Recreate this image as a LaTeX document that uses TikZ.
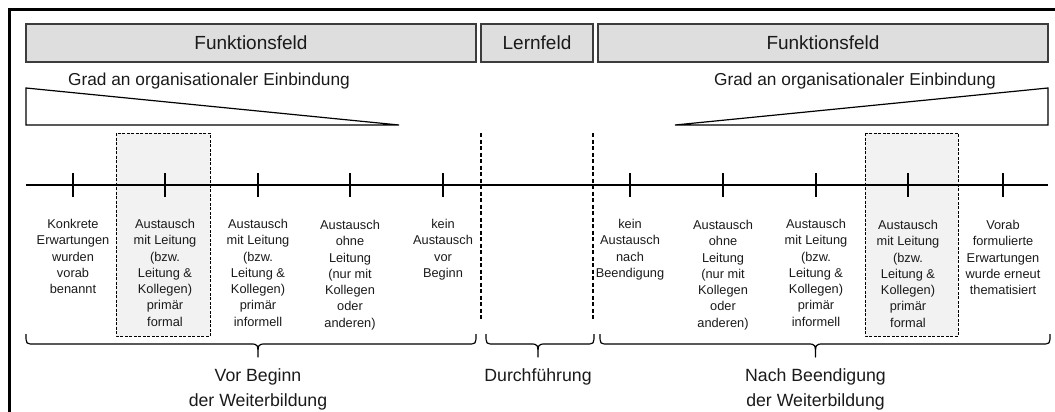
\documentclass[tikz,border=0pt]{standalone}
\usepackage{fontspec}
\setmainfont{Liberation Sans}
\definecolor{hdrfill}{HTML}{DEDEDE}
\definecolor{hdrline}{HTML}{3C3C3C}
\definecolor{boxfill}{HTML}{F2F2F2}
\definecolor{ink}{HTML}{1A1A1A}

% curly brace opening upwards: left end, tip, right end
\newcommand\phasebrace[3]{%
  \draw[bracepath] (#1,334) .. controls (#1,344) .. (#1+8,344) -- (#2-8,344)
    .. controls (#2,344) .. (#2,357) .. controls (#2,344) .. (#2+8,344)
    -- (#3-8,344) .. controls (#3,344) .. (#3,334);}

\begin{document}
\begin{tikzpicture}[x=1pt,y=-1pt,
  hdr/.style={draw=hdrline, fill=hdrfill, line width=1.3pt, minimum height=38pt,
    inner sep=0pt, text=ink, font=\fontsize{19}{22}\selectfont},
  grad/.style={inner sep=0pt, text=ink, font=\fontsize{17.3}{20}\selectfont},
  lbl/.style={anchor=north, inner sep=0pt, align=center, text=ink,
    font=\fontsize{12.8}{16.3}\selectfont},
  phase/.style={anchor=north, inner sep=0pt, align=center, text=ink,
    font=\fontsize{17.7}{24.5}\selectfont},
  tickmark/.style={line width=1.4pt},
  wedge/.style={line width=1.2pt, line join=miter},
  dashsep/.style={line width=1.1pt, dash pattern=on 4pt off 2.5pt},
  highlight/.style={fill=boxfill, draw=black, line width=0.9pt, dash pattern=on 3pt off 1.5pt},
  bracepath/.style={line width=1.2pt, line join=round}]
\useasboundingbox (0,0) rectangle (1055,412);

% frame
\draw[line width=3pt] (9.5,412) -- (9.5,10) -- (1055,10);

% highlighted columns
\draw[highlight] (116,133) rectangle (210,336);
\draw[highlight] (865,133) rectangle (958,336);

% header fields
\node[hdr, minimum width=450pt] (ff1) at (251,43) {Funktionsfeld};
\node[hdr, minimum width=112pt] (lf) at (537,43) {Lernfeld};
\node[hdr, minimum width=450pt] (ff2) at (823,43) {Funktionsfeld};

% degree of organisational integration
\node[grad] (g1) at (209,81) {Grad an organisationaler Einbindung};
\node[grad] (g2) at (855,81) {Grad an organisationaler Einbindung};
\draw[wedge] (26,88) -- (399,125) -- (26,125) -- cycle;
\draw[wedge] (675,125) -- (1048,88) -- (1048,125) -- cycle;

% phase separators
\draw[dashsep] (481,133) -- (481,320);
\draw[dashsep] (593,133) -- (593,320);

% time line with ticks
\draw[line width=1.4pt] (26,185) -- (1048,185);
\foreach \i/\x in {1/73,2/165,3/258,4/350,5/443,6/630,7/723,8/816,9/908,10/1003}{
  \coordinate (t\i) at (\x,185);
  \draw[tickmark] (t\i) +(0,-12) -- +(0,12);
}

% tick labels
\node[lbl] (l1) at (73,219) {Konkrete\\Erwartungen\\wurden\\vorab\\benannt};
\node[lbl] (l2) at (165,219) {Austausch\\mit Leitung\\(bzw.\\Leitung \&\\Kollegen)\\primär\\formal};
\node[lbl] (l3) at (258,219) {Austausch\\mit Leitung\\(bzw.\\Leitung \&\\Kollegen)\\primär\\informell};
\node[lbl] (l4) at (350,220) {Austausch\\ohne\\Leitung\\(nur mit\\Kollegen\\oder\\anderen)};
\node[lbl] (l5) at (443,219) {kein\\Austausch\\vor\\Beginn};
\node[lbl] (l6) at (630,219) {kein\\Austausch\\nach\\Beendigung};
\node[lbl] (l7) at (723,220) {Austausch\\ohne\\Leitung\\(nur mit\\Kollegen\\oder\\anderen)};
\node[lbl] (l8) at (816,219) {Austausch\\mit Leitung\\(bzw.\\Leitung \&\\Kollegen)\\primär\\informell};
\node[lbl] (l9) at (908,220) {Austausch\\mit Leitung\\(bzw.\\Leitung \&\\Kollegen)\\primär\\formal};
\node[lbl] (l10) at (1003,220) {Vorab\\formulierte\\Erwartungen\\wurde erneut\\thematisiert};

% phase braces and names
\phasebrace{26}{258}{476}
\phasebrace{486}{538}{594}
\phasebrace{600}{815.5}{1050}
\node[phase] (p1) at (258,368.5) {Vor Beginn\\der Weiterbildung};
\node[phase] (p2) at (538,368.5) {Durchführung};
\node[phase] (p3) at (815.5,368.5) {Nach Beendigung\\der Weiterbildung};
\end{tikzpicture}
\end{document}
